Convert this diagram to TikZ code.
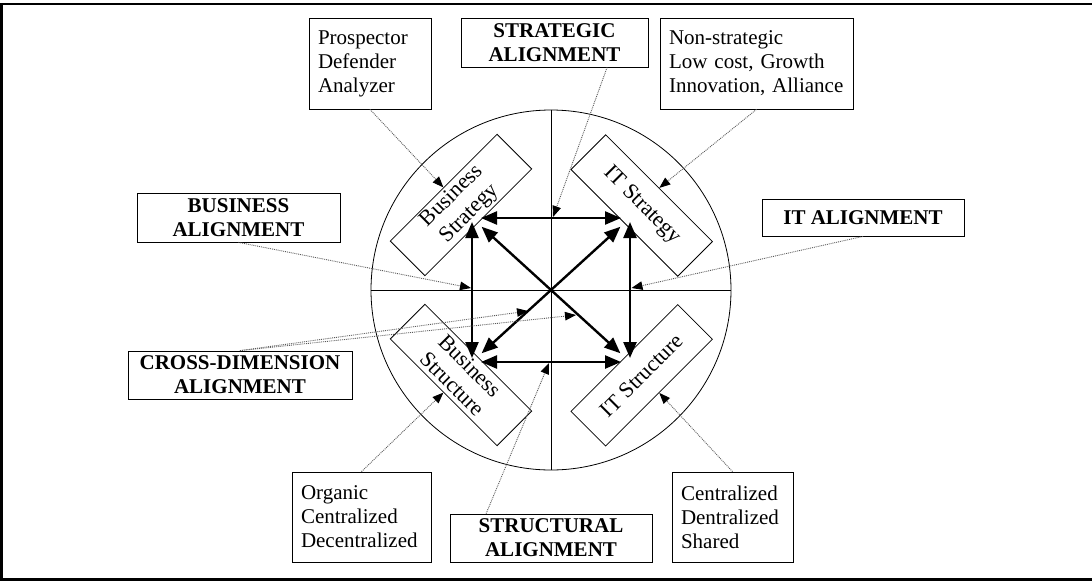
\documentclass[tikz,border=0pt]{standalone}
\usepackage{fontspec}
\setmainfont{Liberation Serif}
\usetikzlibrary{arrows.meta,calc}
\begin{document}
\begin{tikzpicture}[x=1pt,y=-1pt,
  every node/.style={font=\fontsize{21}{24}\selectfont},
  tbox/.style 2 args={draw,line width=0.8pt,inner sep=0pt,minimum width=#1,minimum height=#2,align=center},
  bbox/.style 2 args={tbox={#1}{#2},font=\fontsize{21}{24}\selectfont\bfseries},
  lbox/.style 2 args={draw,line width=0.8pt,inner ysep=0pt,inner xsep=9pt,text width=#1-18pt,minimum height=#2,align=left},
  rbox/.style={draw,line width=0.8pt,inner sep=0pt,minimum width=151pt,minimum height=49pt,align=center,font=\fontsize{22}{25}\selectfont},
  marrow/.style={{Triangle[length=16pt,width=13pt]}-{Triangle[length=16pt,width=13pt]},line width=2.4pt},
  darrow/.style={densely dotted,line width=0.9pt,draw=black!65,-{Triangle[length=11pt,width=8.5pt,color=black]}},
  frame/.style={line width=2.6pt}
]
\useasboundingbox (0,0) rectangle (1092,582);
\draw[frame] (1094,4) -- (1.5,4) -- (1.5,579.5) -- (1094,579.5);

% circle and axes
\node[circle,draw,line width=0.8pt,minimum size=360pt,inner sep=0pt] (circ) at (551,290) {};
\draw[line width=0.8pt] (circ.north) -- (circ.south);
\draw[line width=0.8pt] (circ.west) -- (circ.east);

% rotated boxes
\node[rbox,rotate=45] (bs) at (461,205) {Business\\Strategy};
\node[rbox,rotate=-45] (its) at (641.7,205.5) {IT Strategy};
\node[rbox,rotate=-45] (bst) at (461,375) {Business\\Structure};
\node[rbox,rotate=45] (itst) at (641.7,375.3) {IT Structure};

% corners of the inner square
\coordinate (ctl) at (472,218);
\coordinate (ctr) at (630,218);
\coordinate (cbl) at (472,362);
\coordinate (cbr) at (630,362);
\draw[marrow,shorten <=4pt,shorten >=4pt] (ctl) -- (cbl);
\draw[marrow,shorten <=4pt,shorten >=4pt] (ctr) -- (cbr);
\draw[marrow,shorten <=9pt,shorten >=9pt] (ctl) -- (ctr);
\draw[marrow,shorten <=9pt,shorten >=9pt] (cbl) -- (cbr);
\draw[marrow,shorten <=13pt,shorten >=13pt] (ctl) -- (cbr);
\draw[marrow,shorten <=13pt,shorten >=13pt] (cbl) -- (ctr);

% text boxes
\node[lbox={122pt}{91pt}] (pros) at (370,63.5) {Prospector\\Defender\\Analyzer};
\node[bbox={187pt}{49pt}] (strat) at (554.5,42.5) {STRATEGIC\\ALIGNMENT};
\node[lbox={193pt}{91pt}] (nonstr) at (756.5,63.5) {Non-strategic\\Low cost, Growth\\Innovation, Alliance};
\node[bbox={203pt}{49pt}] (busal) at (238.5,217.5) {BUSINESS\\ALIGNMENT};
\node[bbox={202pt}{37pt}] (ital) at (863,217.5) {IT ALIGNMENT};
\node[bbox={224pt}{48pt}] (cross) at (240,375) {CROSS-DIMENSION\\ALIGNMENT};
\node[lbox={139pt}{90pt}] (organic) at (361.5,517) {Organic\\Centralized\\Decentralized};
\node[bbox={202pt}{48pt}] (struct) at (551,538) {STRUCTURAL\\ALIGNMENT};
\node[lbox={121pt}{90pt}] (central) at (732.5,517) {Centralized\\Dentralized\\Shared};

% target points on the arrows
\coordinate (tm) at (553,217);
\coordinate (lm) at (471,288);
\coordinate (rm) at (631.5,288);
\coordinate (bm) at (549,363);
\coordinate (d1) at (528,311);
\coordinate (d2) at (576,315);

% dotted connectors
\draw[darrow] (pros.south) -- (bs.north);
\draw[darrow] (nonstr.south) -- (its.north);
\draw[darrow] (organic.north) -- (bst.south);
\draw[darrow] (central.north) -- (itst.south);
\draw[darrow] ($(strat.south east)!0.22!(strat.south west)$) -- (tm);
\draw[darrow] (busal.south) -- (lm);
\draw[darrow] (ital.south) -- (rm);
\draw[darrow] ($(struct.north west)!0.18!(struct.north east)$) -- (bm);
\draw[darrow] (cross.north) -- (d1);
\draw[darrow] (cross.north) -- (d2);
\end{tikzpicture}
\end{document}
